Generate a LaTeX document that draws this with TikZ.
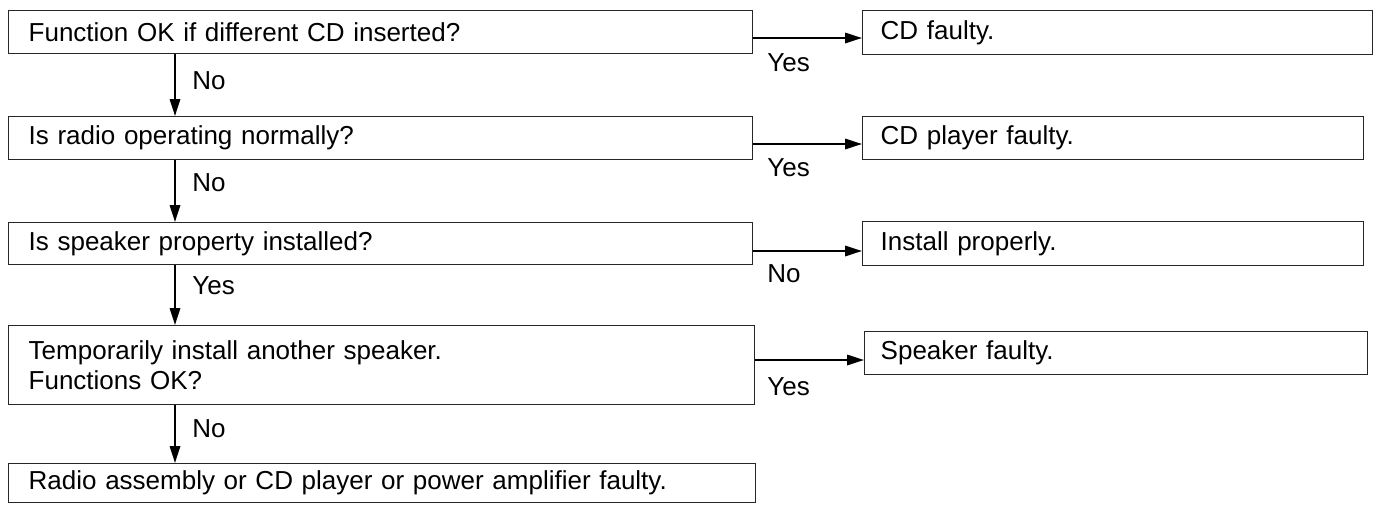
\documentclass[tikz,border=0pt]{standalone}
\usepackage{fontspec}
\setmainfont{Liberation Sans}
\usetikzlibrary{arrows.meta}
\begin{document}
\begin{tikzpicture}[x=0.5pt,y=-0.5pt,
  font=\fontsize{13pt}{15pt}\selectfont,
  fbox/.style={draw=black!85, line width=0.7pt, anchor=north west, inner xsep=10pt, inner ysep=0pt, align=left},
  arr/.style={line width=1pt, -{Triangle[length=8.5pt,width=5.2pt]}},
  lbl/.style={anchor=base west, inner sep=0pt}]
\useasboundingbox (0,0) rectangle (1376,504);
% left column
\node[fbox, text width=352pt, minimum height=21.5pt] (b1) at (8,10) {Function OK if different CD inserted?};
\node[fbox, text width=352pt, minimum height=21.5pt] (b2) at (8,116) {Is radio operating normally?};
\node[fbox, text width=352pt, minimum height=21pt] (b3) at (8,222) {Is speaker property installed?};
\node[fbox, text width=353pt, minimum height=39.5pt] (b4) at (8,325) {Temporarily install another speaker.\\Functions OK?};
\node[fbox, text width=353.5pt, minimum height=19.5pt] (b5) at (8,463) {Radio assembly or CD player or power amplifier faulty.};
% right column
\node[fbox, inner xsep=9pt, text width=237pt, minimum height=22pt] (r1) at (862,10) {CD faulty.};
\node[fbox, inner xsep=9pt, text width=232.5pt, minimum height=21.5pt] (r2) at (862,116) {CD player faulty.};
\node[fbox, inner xsep=9pt, text width=232.5pt, minimum height=22pt] (r3) at (862,221) {Install properly.};
\node[fbox, inner xsep=8pt, text width=235.5pt, minimum height=21.5pt] (r4) at (864,331) {Speaker faulty.};
% horizontal connectors
\draw[arr] (b1.east |- 0,38) -- (r1.west |- 0,38);
\draw[arr] (b2.east |- 0,144) -- (r2.west |- 0,144);
\draw[arr] (b3.east |- 0,251) -- (r3.west |- 0,251);
\draw[arr] (b4.east |- 0,360) -- (r4.west |- 0,360);
% vertical connectors
\draw[arr] (b1.south -| 175,0) -- (b2.north -| 175,0);
\draw[arr] (b2.south -| 175,0) -- (b3.north -| 175,0);
\draw[arr] (b3.south -| 175,0) -- (b4.north -| 175,0);
\draw[arr] (b4.south -| 175,0) -- (b5.north -| 175,0);
% labels
\node[lbl] (l1) at (192,89) {No};
\node[lbl] (l2) at (192,191) {No};
\node[lbl] (l3) at (192,294) {Yes};
\node[lbl] (l4) at (192,437) {No};
\node[lbl] (m1) at (767,71) {Yes};
\node[lbl] (m2) at (767,176) {Yes};
\node[lbl] (m3) at (767,282) {No};
\node[lbl] (m4) at (767,395) {Yes};
\end{tikzpicture}
\end{document}
